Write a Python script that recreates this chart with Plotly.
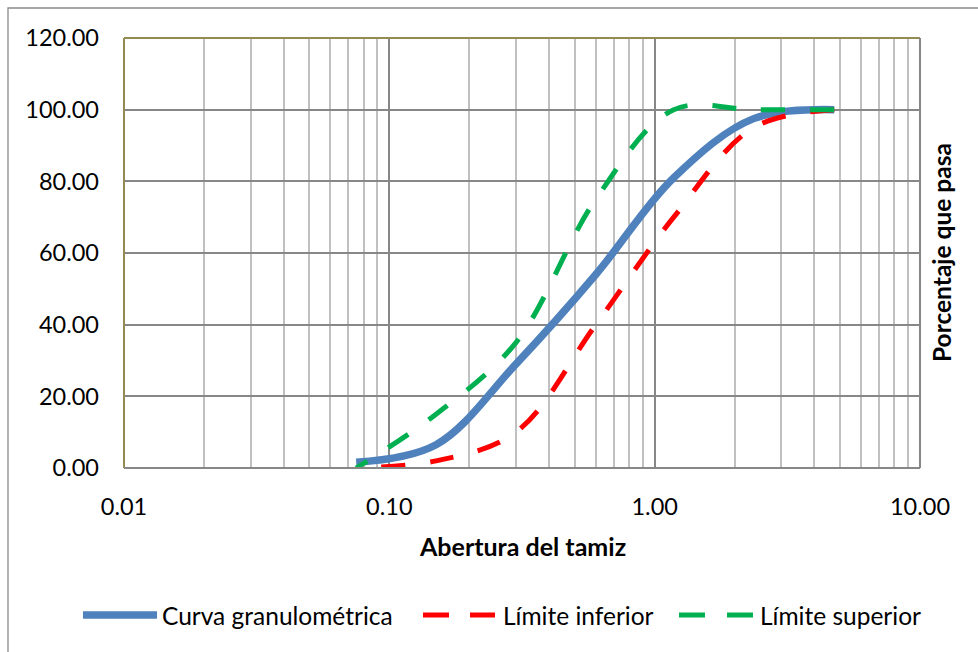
import plotly.graph_objects as go

# Sieve openings (mm) and percentages passing
abertura = [4.75, 2.36, 1.18, 0.60, 0.30, 0.15, 0.075]
curva_granulometrica = [100.0, 97.5, 81.0, 54.0, 29.0, 6.5, 1.6]
limite_inferior = [100.0, 95.0, 70.0, 40.0, 10.0, 2.0, 0.0]
limite_superior = [100.0, 100.0, 100.0, 75.0, 35.0, 15.0, 0.0]

x_tickvals = [0.01, 0.1, 1, 10]
x_ticktext = ["0.01", "0.10", "1.00", "10.00"]
y_tickvals = [0, 20, 40, 60, 80, 100, 120]
y_ticktext = ["0.00", "20.00", "40.00", "60.00", "80.00", "100.00", "120.00"]
x_minor = [k * 10 ** e for e in (-2, -1, 0) for k in range(2, 10)]

series_names = ["Curva granulométrica", "Límite inferior", "Límite superior"]
BLUE, RED, GREEN = "#4F81BD", "#FF0000", "#00B050"
FONT = "Lato"
DASH = "24px,25px"

W, H = 978, 652
L, R, T, B = 124, 58, 38, 184
PW, PH = W - L - R, H - T - B


def px_x(p):
    return (p - L) / PW


def px_y(p):
    return (H - B - p) / PH


fig = go.Figure()
fig.add_trace(go.Scatter(
    x=abertura, y=curva_granulometrica, name=series_names[0], mode="lines",
    line=dict(color=BLUE, width=7.5, shape="spline", smoothing=1.0)))
fig.add_trace(go.Scatter(
    x=abertura, y=limite_inferior, name=series_names[1], mode="lines",
    line=dict(color=RED, width=5, dash=DASH, shape="spline", smoothing=1.0)))
fig.add_trace(go.Scatter(
    x=abertura, y=limite_superior, name=series_names[2], mode="lines",
    line=dict(color=GREEN, width=5, dash=DASH, shape="spline", smoothing=1.0)))

MAJOR, MINOR, OLIVE = "#878787", "#C0C0C0", "#948A54"

fig.update_xaxes(
    type="log", range=[-2, 1],
    tickmode="array", tickvals=x_tickvals, ticktext=x_ticktext,
    showgrid=True, gridcolor=MAJOR, gridwidth=1.5,
    minor=dict(tickmode="array", tickvals=x_minor, showgrid=True,
               gridcolor=MINOR, gridwidth=1.5, ticks=""),
    ticks="", ticklabelstandoff=22, zeroline=False, showline=False,
    tickfont=dict(family=FONT, size=23.5, color="#000000"))
fig.update_yaxes(
    range=[0, 120], tickmode="array", tickvals=y_tickvals, ticktext=y_ticktext,
    showgrid=True, gridcolor=MAJOR, gridwidth=1.5,
    ticks="", ticklabelstandoff=24, zeroline=False, showline=False,
    tickfont=dict(family=FONT, size=23.5, color="#000000"))

shapes = [
    # outer chart border
    dict(type="rect", xref="paper", yref="paper",
         x0=px_x(8), x1=px_x(990), y0=px_y(670), y1=px_y(8),
         line=dict(color="#8A8A8A", width=1.3), layer="below"),
    # plot area frame
    dict(type="line", xref="paper", yref="paper", x0=0, x1=0, y0=0, y1=1,
         line=dict(color=OLIVE, width=2)),
    dict(type="line", xref="paper", yref="paper", x0=0, x1=1, y0=1, y1=1,
         line=dict(color=OLIVE, width=2)),
    dict(type="line", xref="paper", yref="paper", x0=0, x1=1, y0=0, y1=0,
         line=dict(color=MAJOR, width=2)),
    dict(type="line", xref="paper", yref="paper", x0=1, x1=1, y0=0, y1=1,
         line=dict(color=MAJOR, width=2)),
    # legend samples
    dict(type="line", xref="paper", yref="paper",
         x0=px_x(83), x1=px_x(157), y0=px_y(615), y1=px_y(615),
         line=dict(color=BLUE, width=7.5)),
    dict(type="line", xref="paper", yref="paper",
         x0=px_x(423), x1=px_x(495), y0=px_y(615), y1=px_y(615),
         line=dict(color=RED, width=5, dash="26px,21px")),
    dict(type="line", xref="paper", yref="paper",
         x0=px_x(679), x1=px_x(753), y0=px_y(615), y1=px_y(615),
         line=dict(color=GREEN, width=5, dash="26px,22px")),
]

annotations = [
    dict(text="<b>Abertura del tamiz</b>", xref="paper", yref="paper",
         x=0.5, y=px_y(546), xanchor="center", yanchor="middle", showarrow=False,
         font=dict(family=FONT, size=25, color="#000000")),
    dict(text="<b>Porcentaje que pasa</b>", xref="paper", yref="paper",
         x=px_x(941), y=0.5, xanchor="center", yanchor="middle", showarrow=False,
         textangle=-90, font=dict(family=FONT, size=24.5, color="#000000")),
]
legend_text_x = [160, 501, 758]
for name, lx in zip(series_names, legend_text_x):
    annotations.append(dict(
        text=name, xref="paper", yref="paper", x=px_x(lx), y=px_y(615),
        xanchor="left", yanchor="middle", showarrow=False,
        font=dict(family=FONT, size=24.5, color="#000000")))

fig.update_layout(
    width=W, height=H, margin=dict(l=L, r=R, t=T, b=B),
    paper_bgcolor="#FFFFFF", plot_bgcolor="#FFFFFF",
    showlegend=False, shapes=shapes, annotations=annotations)

fig.write_html("out.html")
